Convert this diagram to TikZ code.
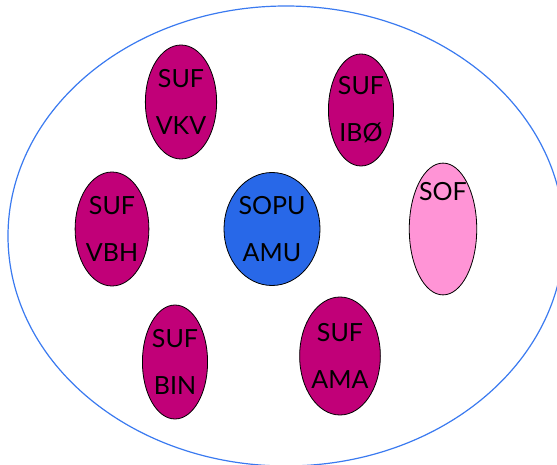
\documentclass[tikz,border=0pt]{standalone}
\usepackage{fontspec}
\setmainfont{Lato}
\usetikzlibrary{shapes.geometric}

\definecolor{sufmagenta}{RGB}{193,0,120}
\definecolor{sopublue}{RGB}{40,104,232}
\definecolor{sofpink}{RGB}{255,148,214}
\definecolor{ringblue}{RGB}{58,122,240}

\tikzset{
  unit/.style={ellipse, draw=black, line width=0.8pt, inner sep=0pt,
    align=center, font=\fontsize{25}{47}\selectfont},
  suf/.style={unit, fill=sufmagenta, minimum width=70pt, minimum height=114pt},
}

\begin{document}
\begin{tikzpicture}[x=1pt,y=-1pt]
\useasboundingbox (0,0) rectangle (557,465);

% outer ring
\draw[ringblue, line width=1.2pt] (286,236) ellipse [x radius=278, y radius=230];

% centre
\node[unit, fill=sopublue, minimum width=96pt, minimum height=113pt] (sopu) at (272,229) {SOPU\\AMU};

% SUF units
\node[suf] (vkv) at (181,102) {SUF\\VKV};
\node[suf, minimum width=62pt, minimum height=112pt] (ibo) at (361,110) {SUF\\IBØ};
\node[suf, minimum width=72pt] (vbh) at (112,229) {SUF\\VBH};
\node[suf, minimum width=60pt] (bin) at (175,362) {SUF\\BIN};
\node[suf, minimum width=78pt, minimum height=118pt] (ama) at (340,356) {SUF\\AMA};

% SOF
\node[unit, fill=sofpink, minimum width=67pt, minimum height=131pt] (sof) at (443,229) {SOF\\[14pt]\strut};

\end{tikzpicture}
\end{document}
